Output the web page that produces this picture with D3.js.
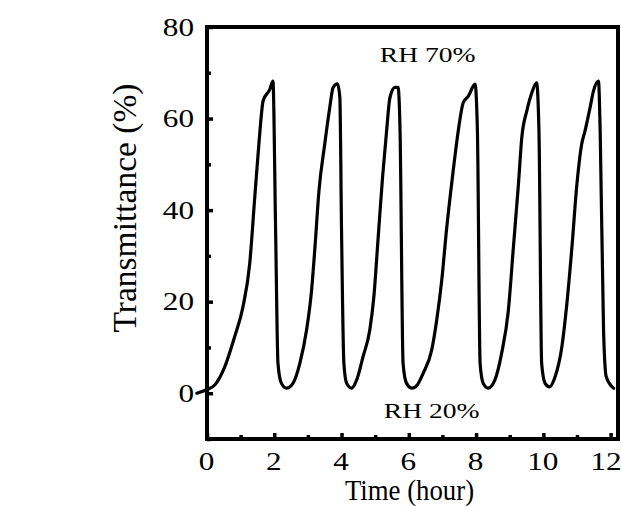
<!DOCTYPE html>
<html>
<head>
<meta charset="utf-8">
<script src="https://cdn.jsdelivr.net/npm/d3@7"></script>
<style>
  html, body { margin: 0; padding: 0; background: #fff; }
  svg { display: block; }
  text { font-family: "Liberation Serif", "Times New Roman", serif; fill: #000; }
</style>
</head>
<body>
<svg id="chart" width="621" height="506"></svg>
<script>
// ---- data ----
const timeHours = [-0.3, 0, 0.23, 0.53, 0.82, 1.07, 1.27, 1.42, 1.55, 1.67, 1.87, 1.96, 2.04, 2.11, 2.21, 2.36,
  2.56, 2.76, 2.96, 3.11, 3.21, 3.33, 3.5, 3.65, 3.75, 3.88, 3.95, 4.0, 4.07, 4.15, 4.3,
  4.45, 4.64, 4.84, 4.96, 5.09, 5.22, 5.34, 5.44, 5.59, 5.68, 5.74, 5.83, 5.93, 6.1,
  6.25, 6.43, 6.68, 6.83, 6.98, 7.12, 7.32, 7.47, 7.62, 7.77, 7.97, 8.04, 8.12, 8.21, 8.36,
  8.56, 8.76, 8.96, 9.11, 9.26, 9.36, 9.51, 9.66, 9.8, 9.87, 9.95, 10.05, 10.18,
  10.35, 10.55, 10.7, 10.85, 10.99, 11.14, 11.24, 11.39, 11.49, 11.64, 11.69, 11.79, 11.87, 12.09];
const transmittance = [0, 0.8, 1.8, 5.8, 12.3, 18.9, 28.3, 42.8, 55.1, 63.9, 66.4, 68.2, 35.6, 6.5, 2.2, 1.1,
  2.2, 6.5, 13.8, 22.5, 31.9, 44.3, 54.4, 62.4, 66.8, 67.6, 64.6, 35.6, 6.5, 2.2, 1.1,
  2.9, 8.0, 13.8, 21.0, 34.1, 47.2, 57.3, 64.6, 66.8, 66.8, 57.3, 6.5, 2.2, 1.1,
  1.8, 4.4, 9.4, 16.0, 24.7, 35.6, 48.6, 57.3, 63.5, 64.9, 67.5, 57.3, 6.5, 2.2, 1.1,
  2.9, 8.7, 18.1, 31.9, 45.7, 55.9, 61.7, 65.7, 67.8, 57.3, 6.5, 2.2, 1.4,
  3.6, 10.1, 19.6, 31.9, 45.0, 54.4, 57.3, 62.4, 66.0, 68.2, 57.3, 13.8, 3.6, 1.1];
const xDomain = [0, 12.22];
const yDomain = [-10, 80];
const xMajorTicks = [0, 2, 4, 6, 8, 10, 12];
const xMinorTicks = [1, 3, 5, 7, 9, 11];
const yMajorTicks = [0, 20, 40, 60, 80];
const yMinorTicks = [-10, 10, 30, 50, 70];
const xTitle = "Time (hour)";
const yTitle = "Transmittance (%)";
const annotations = [
  { text: "RH 70%", t: 6.56, v: 72.3 },
  { text: "RH 20%", t: 6.68, v: -5.4 }
];

// ---- chart ----
const svg = d3.select("#chart");
const mLeft = 207, mRight = 618, mTop = 27, mBottom = 439;
const x = d3.scaleLinear().domain(xDomain).range([mLeft, mRight]);
const y = d3.scaleLinear().domain(yDomain).range([mBottom, mTop]);

// data line
const pts = timeHours.map((t, i) => [t, transmittance[i]]);
const line = d3.line().x(d => x(d[0])).y(d => y(d[1])).curve(d3.curveMonotoneX);
svg.append("path").datum(pts).attr("d", line)
  .attr("fill", "none").attr("stroke", "#000").attr("stroke-width", 3.2)
  .attr("stroke-linejoin", "round").attr("stroke-linecap", "round");

// x axis (bottom) with inward ticks
const xAxis = d3.axisBottom(x).tickValues(xMajorTicks).tickSizeInner(-6).tickSizeOuter(0)
  .tickFormat(d3.format("d"));
const gx = svg.append("g").attr("transform", `translate(0,${mBottom})`).call(xAxis);
gx.select(".domain").remove();
gx.selectAll(".tick line").attr("stroke", "#000").attr("stroke-width", 3.5);
gx.selectAll(".tick text").attr("font-size", 26).attr("font-family", "Liberation Serif")
  .attr("x", 0).attr("y", 0).attr("dy", 0)
  .attr("transform", (d, i, n) => `translate(${i === n.length - 1 ? -5 : -1},31) scale(1.2,1)`);
const gxm = svg.append("g").attr("transform", `translate(0,${mBottom})`)
  .call(d3.axisBottom(x).tickValues(xMinorTicks).tickSizeInner(-4).tickSizeOuter(0).tickFormat(""));
gxm.select(".domain").remove();
gxm.selectAll(".tick line").attr("stroke", "#000").attr("stroke-width", 3.5);

// y axis (left) with inward ticks
const yAxis = d3.axisLeft(y).tickValues(yMajorTicks).tickSizeInner(-6).tickSizeOuter(0)
  .tickFormat(d3.format("d"));
const gy = svg.append("g").attr("transform", `translate(${mLeft},0)`).call(yAxis);
gy.select(".domain").remove();
gy.selectAll(".tick line").attr("stroke", "#000").attr("stroke-width", 3.5);
gy.selectAll(".tick text").attr("font-size", 26).attr("font-family", "Liberation Serif")
  .attr("x", 0).attr("transform", "translate(-13,0) scale(1.2,1)");
const gym = svg.append("g").attr("transform", `translate(${mLeft},0)`)
  .call(d3.axisLeft(y).tickValues(yMinorTicks).tickSizeInner(-4).tickSizeOuter(0).tickFormat(""));
gym.select(".domain").remove();
gym.selectAll(".tick line").attr("stroke", "#000").attr("stroke-width", 3.5);

// frame
svg.append("rect").attr("x", mLeft).attr("y", mTop).attr("width", mRight - mLeft).attr("height", mBottom - mTop)
  .attr("fill", "none").attr("stroke", "#000").attr("stroke-width", 4);

// annotations
svg.selectAll("text.anno").data(annotations).enter().append("text").attr("class", "anno")
  .attr("transform", d => `translate(${x(d.t)},${y(d.v)}) scale(1.38,1)`)
  .attr("text-anchor", "middle")
  .attr("font-size", 20).text(d => d.text);

// titles
svg.append("text").attr("transform", "translate(409.5,500) scale(0.94,1)").attr("text-anchor", "middle")
  .attr("font-size", 28.5).text(xTitle);
svg.append("text").attr("transform", "translate(136,208) rotate(-90)").attr("text-anchor", "middle")
  .attr("font-size", 33.5).text(yTitle);
</script>
</body>
</html>
